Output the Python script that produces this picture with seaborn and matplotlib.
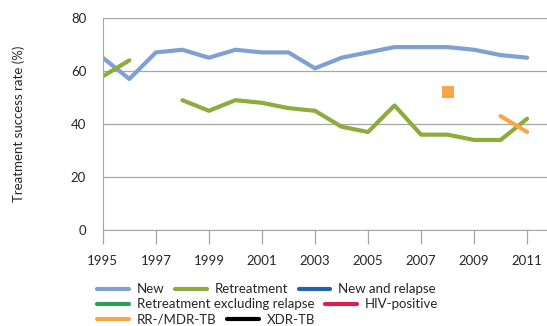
import matplotlib
matplotlib.use("Agg")
import matplotlib.pyplot as plt
from matplotlib.lines import Line2D
import numpy as np
import pandas as pd
import seaborn as sns

years = list(range(1995, 2012))
new = [65, 57, 67, 68, 65, 68, 67, 67, 61, 65, 67, 69, 69, 69, 68, 66, 65]
retreatment = [58, 64, None, 49, 45, 49, 48, 46, 45, 39, 37, 47, 36, 36, 34, 34, 42]
mdr_years = [2008, 2010, 2011]
mdr = [52, 43, 37]

labels = ["New", "Retreatment", "New and relapse", "Retreatment excluding relapse",
          "HIV-positive", "RR-/MDR-TB", "XDR-TB"]
colors = {"New": "#7ea0d2", "Retreatment": "#8fab3b", "New and relapse": "#1f64ad",
          "Retreatment excluding relapse": "#2f9c5c", "HIV-positive": "#d81f4d",
          "RR-/MDR-TB": "#f9a548", "XDR-TB": "#000000"}

sns.set_style("white")
plt.rcParams['font.family'] = ['Lato', 'DejaVu Sans']
plt.rcParams['font.size'] = 9.5


def segments(xs, ys):
    # split a series on missing values so the line breaks
    seg, out = [], []
    for x, y in zip(xs, ys):
        if y is None:
            if seg:
                out.append(seg)
            seg = []
        else:
            seg.append((x, y))
    if seg:
        out.append(seg)
    return [pd.DataFrame(s, columns=["year", "value"]) for s in out]


fig = plt.figure(figsize=(5.47, 3.26), dpi=100)
ax = fig.add_axes([0.188, 0.294, 0.812, 0.651])

for d in segments(years, new):
    sns.lineplot(data=d, x="year", y="value", color=colors["New"], lw=3, ax=ax)
for d in segments(years, retreatment):
    sns.lineplot(data=d, x="year", y="value", color=colors["Retreatment"], lw=3, ax=ax)

mdr_line = pd.DataFrame({"year": mdr_years[1:], "value": mdr[1:]})
sns.lineplot(data=mdr_line, x="year", y="value", color=colors["RR-/MDR-TB"], lw=3, ax=ax)
mdr_pt = pd.DataFrame({"year": mdr_years[:1], "value": mdr[:1]})
sns.scatterplot(data=mdr_pt, x="year", y="value", color=colors["RR-/MDR-TB"], marker="s",
                s=80, linewidth=0, ax=ax)

ax.set_xlim(1995, 2011.75)
ax.set_ylim(0, 80)
ax.set_yticks([0, 20, 40, 60, 80])
ax.set_xticks(list(range(1995, 2012, 2)))
ax.grid(axis="y", color="#a6a6a6", lw=0.9)
ax.set_axisbelow(True)
for s in ["top", "right"]:
    ax.spines[s].set_visible(False)
ax.spines["left"].set_color("#a6a6a6")
ax.spines["bottom"].set_color("#a6a6a6")
ax.tick_params(axis="x", direction="out", length=10, width=0.9, color="#a6a6a6", pad=8,
               bottom=True)
ax.tick_params(axis="y", length=0, pad=12)
ax.set_xlabel("")
ax.set_ylabel("Treatment success rate (%)", labelpad=33)

rows = [labels[0:3], labels[3:5], labels[5:7]]
row_y = [0.113, 0.067, 0.019]
for row, y in zip(rows, row_y):
    handles = [Line2D([], [], color=colors[l], lw=3) for l in row]
    fig.legend(handles, row, loc="center left", bbox_to_anchor=(0.178, y), ncol=len(row),
               frameon=False, handlelength=2.4, handletextpad=0.6, columnspacing=0.8,
               borderaxespad=0, borderpad=0, fontsize=9.5)

fig.savefig("out.png", dpi=100)
